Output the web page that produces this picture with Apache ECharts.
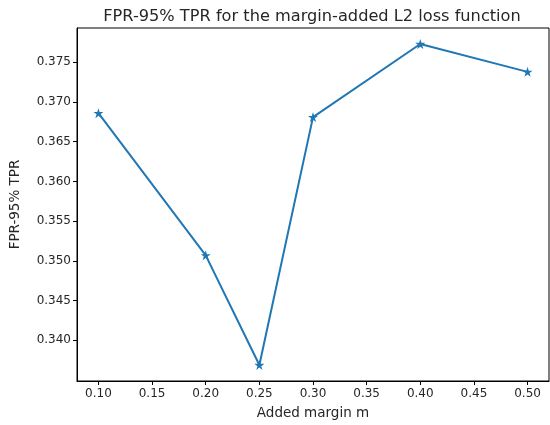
<!DOCTYPE html>
<html>
<head>
<meta charset="utf-8">
<script src="https://cdn.jsdelivr.net/npm/echarts@6/dist/echarts.min.js"></script>
<style>
  html, body { margin: 0; padding: 0; background: #fff; }
  #chart { width: 550px; height: 425px; }
</style>
</head>
<body>
<div id="chart"></div>
<script>
// Added margin values and the resulting FPR at 95% TPR
const margins = [0.10, 0.20, 0.25, 0.30, 0.40, 0.50];
const fprValues = [0.3686, 0.3507, 0.3369, 0.3681, 0.3773, 0.3738];

// Tick positions shown on each axis
const xTicks = [0.10, 0.15, 0.20, 0.25, 0.30, 0.35, 0.40, 0.45, 0.50];
const yTicks = [0.340, 0.345, 0.350, 0.355, 0.360, 0.365, 0.370, 0.375];

const titleText = 'FPR-95% TPR for the margin-added L2 loss function';
const xName = 'Added margin m';
const yName = 'FPR-95% TPR';

// Autoscale with a 5% margin on either side of the data range
function padded(values) {
  const lo = Math.min(...values), hi = Math.max(...values);
  const pad = (hi - lo) * 0.05;
  return [lo - pad, hi + pad];
}
const [xMin, xMax] = padded(margins);
const [yMin, yMax] = padded(fprValues);

const FONT = 'DejaVu Sans';
const TEXT = '#262626';
const STAR = 'path://M50,0 L61.2,34.5 L97.6,34.5 L68.2,55.9 L79.4,90.5 L50,69.1 L20.6,90.5 L31.8,55.9 L2.4,34.5 L38.8,34.5 Z';

const chart = echarts.init(document.getElementById('chart'), null, { renderer: 'canvas' });
chart.setOption({
  animation: false,
  backgroundColor: '#ffffff',
  title: {
    text: titleText,
    left: 307,
    top: 4,
    textAlign: 'center',
    textStyle: { fontFamily: FONT, fontSize: 16.2, fontWeight: 'normal', color: TEXT }
  },
  grid: {
    left: 76, right: 1, top: 28, bottom: 42,
    show: true, borderColor: '#000', borderWidth: 1, backgroundColor: 'transparent'
  },
  xAxis: {
    type: 'value',
    min: xMin, max: xMax,
    name: xName,
    nameLocation: 'middle',
    nameGap: 25,
    nameTextStyle: { fontFamily: FONT, fontSize: 13.5, color: TEXT },
    axisLine: { show: true, onZero: false, lineStyle: { color: '#000', width: 1 } },
    axisTick: { show: true, inside: false, length: 4, lineStyle: { color: '#000' }, customValues: xTicks },
    axisLabel: {
      margin: 7, fontFamily: FONT, fontSize: 12, color: TEXT,
      customValues: xTicks,
      formatter: v => v.toFixed(2)
    },
    splitLine: { show: false }
  },
  yAxis: {
    type: 'value',
    min: yMin, max: yMax,
    name: yName,
    nameLocation: 'middle',
    nameGap: 55,
    nameTextStyle: { fontFamily: FONT, fontSize: 13.5, color: TEXT },
    axisLine: { show: true, onZero: false, lineStyle: { color: '#000', width: 1 } },
    axisTick: { show: true, inside: false, length: 4, lineStyle: { color: '#000' }, customValues: yTicks },
    axisLabel: {
      margin: 6, fontFamily: FONT, fontSize: 12, color: TEXT,
      customValues: yTicks,
      formatter: v => v.toFixed(3)
    },
    splitLine: { show: false }
  },
  series: [{
    type: 'line',
    data: margins.map((m, i) => [m, fprValues[i]]),
    symbol: STAR,
    symbolSize: 10,
    showAllSymbol: true,
    lineStyle: { color: '#1f77b4', width: 2 },
    itemStyle: { color: '#1f77b4', borderWidth: 0 },
    emphasis: { disabled: true }
  }]
});
</script>
</body>
</html>
